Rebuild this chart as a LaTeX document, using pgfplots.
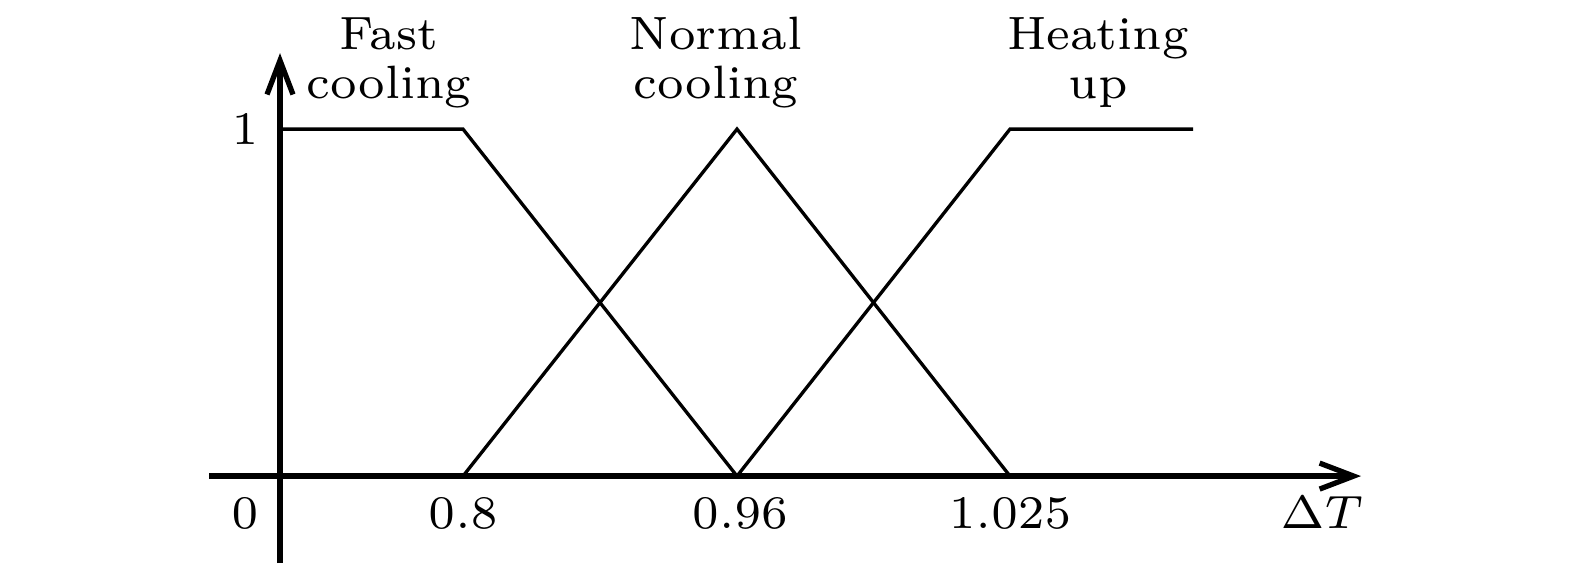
\documentclass[border=0pt]{standalone}
\usepackage{pgfplots}
\usepackage{graphicx}
\pgfplotsset{compat=1.18}
\usetikzlibrary{arrows.meta}
\newcommand{\lbl}[1]{\scalebox{1.9}{\fontsize{7}{8.4}\selectfont #1}}
\begin{document}
\begin{tikzpicture}
\begin{axis}[
  x=0.1mm, y=34.7mm, scale only axis,
  axis lines=middle,
  xmin=-71, xmax=1081, ymin=-0.251, ymax=1.219,
  xtick=\empty, ytick=\empty,
  axis line style={line width=1.7pt, -{Straight Barb[length=3.4mm,width=2.6mm,line width=1.5pt]}},
  clip=false,
]
\addplot[black, line width=0.95pt] coordinates {(0,1) (183,1) (457,0)};
\addplot[black, line width=0.95pt] coordinates {(183,0) (457,1) (730,0)};
\addplot[black, line width=0.95pt] coordinates {(457,0) (730,1) (913,1)};
% labels
\node[anchor=base, inner sep=0pt] at (axis cs:109,1.228) {\lbl{Fast}};
\node[anchor=base, inner sep=0pt] at (axis cs:109,1.089) {\lbl{cooling}};
\node[anchor=base, inner sep=0pt] at (axis cs:436,1.228) {\lbl{Normal}};
\node[anchor=base, inner sep=0pt] at (axis cs:436,1.089) {\lbl{cooling}};
\node[anchor=base, inner sep=0pt] at (axis cs:818,1.228) {\lbl{Heating}};
\node[anchor=base, inner sep=0pt] at (axis cs:818,1.089) {\lbl{up}};
\node[anchor=base, inner sep=0pt] at (axis cs:-35,-0.150) {\lbl{$0$}};
\node[anchor=base, inner sep=0pt] at (axis cs:183,-0.150) {\lbl{$0.8$}};
\node[anchor=base, inner sep=0pt] at (axis cs:460,-0.150) {\lbl{$0.96$}};
\node[anchor=base, inner sep=0pt] at (axis cs:730,-0.150) {\lbl{$1.025$}};
\node[anchor=base, inner sep=0pt] at (axis cs:1042,-0.150) {\lbl{$\Delta T$}};
\node[anchor=base, inner sep=0pt] at (axis cs:-35,0.955) {\lbl{$1$}};
\coordinate (bl) at (axis cs:-280,-0.285);
\coordinate (tr) at (axis cs:1295,1.372);
\end{axis}
\path (bl) rectangle (tr);
\end{tikzpicture}
\end{document}
